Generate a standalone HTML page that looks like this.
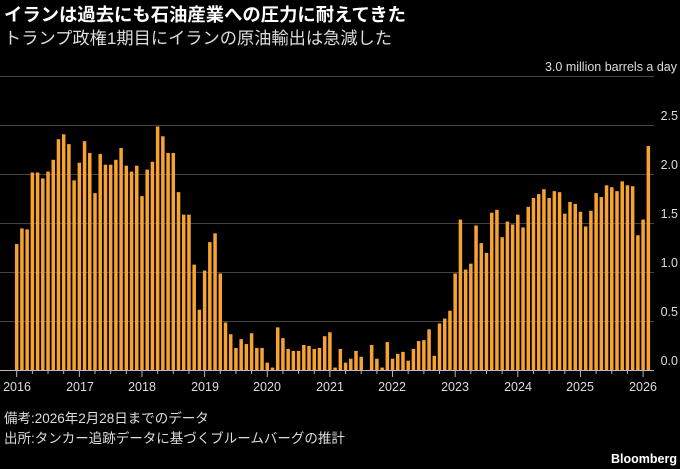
<!DOCTYPE html>
<html><head><meta charset="utf-8"><style>
body{margin:0;background:#000;width:680px;height:469px;overflow:hidden;font-family:"Liberation Sans","Noto Sans CJK JP",sans-serif;color:#fff}
svg{position:absolute;left:0;top:0}
</style></head><body>
<svg id="s" width="680" height="469" xmlns="http://www.w3.org/2000/svg" font-family="Liberation Sans, Noto Sans CJK JP, sans-serif">
<text x="4" y="21" font-size="18" font-weight="bold" fill="#fff" textLength="402" lengthAdjust="spacingAndGlyphs">イランは過去にも石油産業への圧力に耐えてきた</text>
<text x="4" y="44" font-size="17" fill="#ddd" textLength="388" lengthAdjust="spacingAndGlyphs">トランプ政権1期目にイランの原油輸出は急減した</text>
<text x="677" y="71" font-size="12.5" fill="#ddd" text-anchor="end">3.0 million barrels a day</text>
<g stroke="#444" stroke-width="1">
<line x1="0" x2="654" y1="76.5" y2="76.5"/>
<line x1="0" x2="654" y1="125.5" y2="125.5"/>
<line x1="0" x2="654" y1="174.5" y2="174.5"/>
<line x1="0" x2="654" y1="223.5" y2="223.5"/>
<line x1="0" x2="654" y1="272.5" y2="272.5"/>
<line x1="0" x2="654" y1="321.5" y2="321.5"/>
</g>
<g font-size="12.5" fill="#ddd" text-anchor="end">
<text x="678" y="120">2.5</text><text x="678" y="169">2.0</text><text x="678" y="218">1.5</text>
<text x="678" y="267">1.0</text><text x="678" y="316">0.5</text><text x="678" y="365">0.0</text>
</g>
<g id="bars" fill="#f7a331"></g>
<line x1="0" x2="654" y1="370.5" y2="370.5" stroke="#bbb" stroke-width="1"/>
<g id="ticks" stroke="#bbb"></g>
<g font-size="12.5" fill="#ddd" text-anchor="middle">
<text x="17" y="391">2016</text><text x="80" y="391">2017</text><text x="142" y="391">2018</text><text x="205" y="391">2019</text><text x="267" y="391">2020</text><text x="330" y="391">2021</text><text x="392" y="391">2022</text><text x="455" y="391">2023</text><text x="518" y="391">2024</text><text x="580" y="391">2025</text><text x="643" y="391">2026</text>
</g>
<text x="4" y="423" font-size="13.5" fill="#ddd">備考:2026年2月28日までのデータ</text>
<text x="4" y="443" font-size="13.5" fill="#ddd">出所:タンカー追跡データに基づくブルームバーグの推計</text>
<text x="677" y="463" font-size="12.5" font-weight="bold" fill="#fff" text-anchor="end">Bloomberg</text>
</svg>
<script>
var v=[1.29,1.45,1.44,2.02,2.02,1.96,2.03,2.15,2.36,2.41,2.31,1.94,
2.12,2.34,2.22,1.81,2.21,2.10,2.10,2.15,2.27,2.09,2.03,2.09,
1.78,2.05,2.13,2.49,2.39,2.22,2.22,1.82,1.59,1.59,1.08,0.62,
1.02,1.31,1.40,0.99,0.49,0.37,0.23,0.32,0.27,0.38,0.23,0.23,
0.08,0.03,0.44,0.33,0.22,0.2,0.2,0.26,0.25,0.22,0.23,0.35,
0.39,0.03,0.22,0.08,0.12,0.2,0.14,0,0.26,0.12,0.03,0.29,
0.12,0.17,0.19,0.1,0.22,0.3,0.31,0.42,0.15,0.48,0.53,0.61,
0.99,1.54,1.03,1.09,1.48,1.30,1.20,1.61,1.64,1.36,1.52,1.49,
1.59,1.46,1.67,1.76,1.80,1.85,1.76,1.83,1.82,1.60,1.72,1.70,
1.62,1.47,1.63,1.81,1.77,1.89,1.87,1.83,1.93,1.89,1.88,1.38,
1.54,2.29];
var ns="http://www.w3.org/2000/svg",g=document.getElementById("bars"),t=document.getElementById("ticks");
for(var i=0;i<v.length;i++){var c=16.7+5.22*i,h=v[i]*98;var r=document.createElementNS(ns,"rect");
r.setAttribute("x",c-1.75);r.setAttribute("width",3.5);r.setAttribute("y",370.5-h);r.setAttribute("height",h);g.appendChild(r);}
for(var i=0;i<=120;i+=3){var c=16.7+5.22*i;var l=document.createElementNS(ns,"line");
l.setAttribute("x1",c);l.setAttribute("x2",c);l.setAttribute("y1",371);l.setAttribute("y2",i%12==0?377:374);t.appendChild(l);}
</script>
</body></html>
